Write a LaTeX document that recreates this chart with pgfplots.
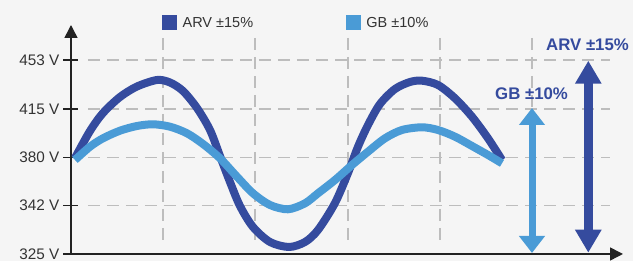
\documentclass[border=0pt]{standalone}
\usepackage{pgfplots}
\pgfplotsset{compat=1.18}
\usepackage{fontspec}
\setmainfont{Liberation Sans}
\usetikzlibrary{arrows.meta}
\definecolor{arv}{HTML}{354B9E}
\definecolor{gb}{HTML}{4A9BD6}
\definecolor{bgc}{HTML}{F5F5F5}
\definecolor{gridc}{HTML}{BDBDBD}
\definecolor{axc}{HTML}{222222}
\definecolor{txt}{HTML}{333333}
\begin{document}
\begin{tikzpicture}
\fill[bgc] (-71pt,-7pt) rectangle (562pt,254pt);
\begin{axis}[
  at={(0pt,0pt)}, anchor=south west,
  scale only axis, width=552pt, height=229pt,
  xmin=71, xmax=623, ymin=7, ymax=236,
  enlargelimits=false, clip=false,
  axis x line=bottom, axis y line=left,
  axis line style={draw=axc, line width=1.5pt, -{Triangle[length=13pt,width=13pt]}},
  xtick=\empty,
  ytick={7,55.3,103.7,152,201},
  yticklabels={325 V,342 V,380 V,415 V,453 V},
  tick align=center, major tick length=15pt,
  tick style={line width=1.5pt, draw=axc},
  /pgf/number format/assume math mode=true,
  yticklabel style={font=\fontsize{15.3}{18}\selectfont, text=txt, anchor=east, inner sep=0pt, xshift=-4pt},
  legend columns=2,
  legend style={at={(0.16486,1.00873)}, anchor=west, draw=none, fill=none,
    inner sep=0pt, outer sep=0pt, font=\fontsize{14.5}{17}\selectfont, text=txt,
    nodes={inner sep=0pt},
    /tikz/every odd column/.append style={column sep=5.6pt},
    /tikz/every even column/.append style={column sep=92.7pt}},
  legend image code/.code={\fill[#1, draw=none, line width=0pt] (0pt,-7.5pt) rectangle (15pt,7.5pt);},
]
% grid
\pgfplotsinvokeforeach{201,152,103.7,55.3}{
  \draw[gridc, line width=1.3pt, dash pattern=on 12pt off 7pt] (axis cs:88,#1) -- (axis cs:610,#1);
}
\pgfplotsinvokeforeach{163,255,348,440,532}{
  \draw[gridc, line width=1.3pt, dash pattern=on 12pt off 7pt] (axis cs:#1,223) -- (axis cs:#1,21);
}
% curves
\addplot[color=arv, line width=8pt, smooth, line cap=butt, line join=round] coordinates {
(75,103) (90,130) (103,148) (120,164) (137,174.5) (157,181) (170,178.5) (183,170)
(197,153) (210,131) (220,105) (230,79) (240,55) (253,34) (270,19) (289,14)
(305,19) (318,31) (335,58) (348,88) (358,114.3) (368,136) (380,157) (395,172)
(410,179) (422,180.3) (438,176) (455,162.7) (472,144.3) (488,122.7) (502,101)};
\addlegendentry{ARV ±15\%}
\addplot[color=gb, line width=8pt, smooth, line cap=butt, line join=round] coordinates {
(75,101) (90,114.3) (103,122.7) (120,130.3) (137,135) (153,136.7) (170,134.3) (187,127.7)
(203,117) (220,102.7) (237,84.3) (253,67.7) (270,56) (288,51.7) (305,57.7) (318,67.7)
(335,81) (352,96) (368,109.3) (385,122.7) (402,131) (422,133.7) (438,131) (455,124.3)
(472,115) (488,106) (502,97.7)};
\addlegendentry{GB ±10\%}
% range arrows
\addplot[color=gb, line width=7pt, forget plot,
  {Triangle[length=17pt,width=25pt]}-{Triangle[length=17pt,width=25pt]}]
  coordinates {(532,8) (532,153)};
\addplot[color=arv, line width=9pt, forget plot,
  {Triangle[length=23pt,width=25pt]}-{Triangle[length=23pt,width=25pt]}]
  coordinates {(588.3,8.3) (588.3,200.3)};
\node[anchor=base west, inner sep=0pt, text=arv, font=\bfseries\fontsize{16.8}{20}\selectfont]
  at (axis cs:546,210.3) {ARV ±15\%};
\node[anchor=base west, inner sep=0pt, text=arv, font=\bfseries\fontsize{16.8}{20}\selectfont]
  at (axis cs:495,161.7) {GB ±10\%};
\end{axis}
\pgfresetboundingbox
\path[use as bounding box] (-71pt,-7pt) rectangle (562pt,254pt);
\end{tikzpicture}
\end{document}
